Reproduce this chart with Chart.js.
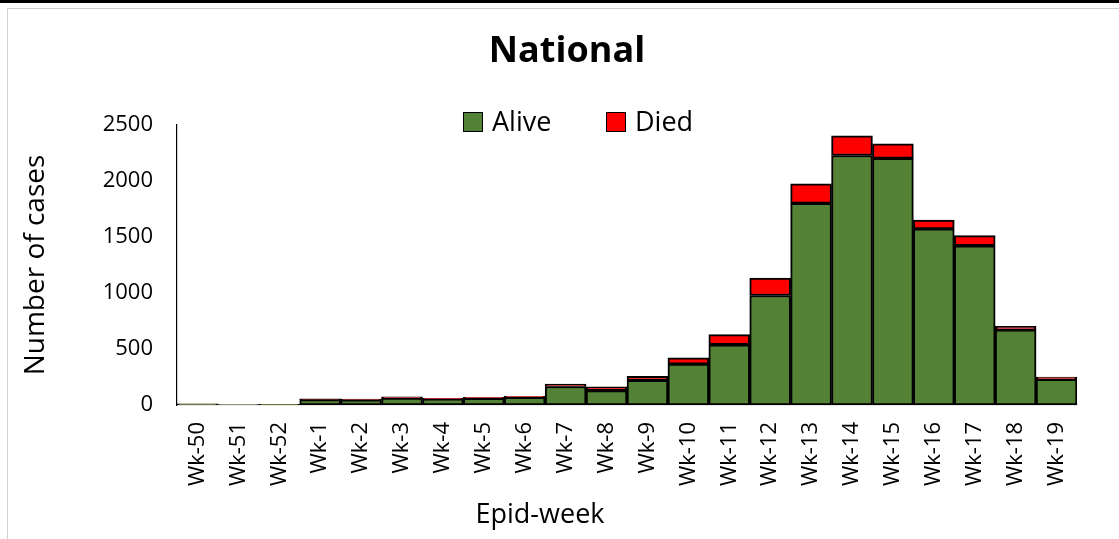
<!DOCTYPE html>
<html>
<head>
<meta charset="utf-8">
<script src="https://cdn.jsdelivr.net/npm/chart.js@4/dist/chart.umd.min.js"></script>
<style>
  html, body { margin: 0; padding: 0; background: #fff; }
  #wrap { position: relative; width: 1119px; height: 539px; overflow: hidden; font-family: "Open Sans", sans-serif; color: #000; }
  .topline { position: absolute; left: 0; top: 0; width: 1119px; height: 3px; background: #000; }
  .frame { position: absolute; left: 7px; top: 8px; width: 1200px; height: 600px; border-left: 1px solid #d0d0d0; border-top: 1px solid #d0d0d0; }
  canvas { position: absolute; left: 0; top: 0; }
  .txt { position: absolute; white-space: nowrap; line-height: 1; }
  .title { left: 367px; width: 400px; text-align: center; top: 31px; font-size: 36px; font-weight: bold; }
  .xtitle { left: 440px; width: 200px; text-align: center; top: 499px; font-size: 27px; }
  .legend { top: 107px; font-size: 27px; display: flex; align-items: center; }
  .legend span.box { display: inline-block; width: 20px; height: 20px; border: 1.5px solid #000; margin-right: 9px; box-sizing: border-box; position: relative; top: 1px; }
</style>
</head>
<body>
<div id="wrap">
  <div class="topline"></div>
  <div class="frame"></div>
  <canvas id="myChart" width="1119" height="539"></canvas>
  <div class="txt title">National</div>
  <div class="txt legend" style="left:463px"><span class="box" style="background:#538135"></span>Alive</div>
  <div class="txt legend" style="left:606px"><span class="box" style="background:#ff0000"></span>Died</div>
  <div class="txt xtitle">Epid-week</div>
</div>
<script>
const weeks = ["Wk-50", "Wk-51", "Wk-52", "Wk-1", "Wk-2", "Wk-3", "Wk-4", "Wk-5", "Wk-6", "Wk-7", "Wk-8",
  "Wk-9", "Wk-10", "Wk-11", "Wk-12", "Wk-13", "Wk-14", "Wk-15", "Wk-16", "Wk-17", "Wk-18", "Wk-19"];
const alive = [8, 3, 6, 48, 46, 62, 54, 60, 68, 165, 128, 220, 365, 538, 978, 1800, 2228, 2202, 1572, 1422, 672, 230];
const died = [2, 0, 1, 6, 6, 10, 6, 8, 10, 22, 35, 35, 57, 90, 155, 175, 175, 130, 80, 90, 30, 20];
const yTicks = [0, 500, 1000, 1500, 2000, 2500];

const ctx = document.getElementById("myChart").getContext("2d");
const myChart = new Chart(ctx, {
  type: "bar",
  data: {
    labels: weeks,
    datasets: [
      { label: "Alive", data: alive, backgroundColor: "#538135", borderColor: "#000", borderWidth: 2, borderSkipped: false },
      { label: "Died", data: died, backgroundColor: "#ff0000", borderColor: "#000", borderWidth: 2, borderSkipped: false },
    ],
  },
  options: {
    responsive: false,
    animation: false,
    layout: { padding: { top: 125, right: 42, bottom: 0, left: 19 } },
    datasets: { bar: { categoryPercentage: 1, barPercentage: 1 } },
    plugins: {
      legend: { display: false },
      tooltip: { enabled: false },
    },
    scales: {
      x: {
        stacked: true,
        grid: { display: false, drawTicks: false },
        border: { color: "#d0d0d0", width: 1.5 },
        ticks: {
          color: "#000",
          font: { family: "Open Sans", size: 22 },
          minRotation: 90,
          maxRotation: 90,
          padding: 17,
          autoSkip: false,
        },
        afterFit: function (scale) {
          scale.height = 134;
        },
      },
      y: {
        stacked: true,
        min: 0,
        max: 2500,
        afterBuildTicks: function (scale) {
          scale.ticks = yTicks.map((v) => ({ value: v }));
        },
        grid: { display: false, drawTicks: false },
        border: { color: "#000", width: 1.2 },
        ticks: {
          color: "#000",
          font: { family: "Open Sans", size: 22 },
          padding: 24,
          callback: (v) => String(v),
        },
        title: {
          display: true,
          text: "Number of cases",
          color: "#000",
          font: { family: "Open Sans", size: 28 },
          padding: { top: 0, bottom: 0 },
        },
        afterFit: function (scale) {
          scale.width = 158;
        },
      },
    },
  },
});
</script>
</body>
</html>
